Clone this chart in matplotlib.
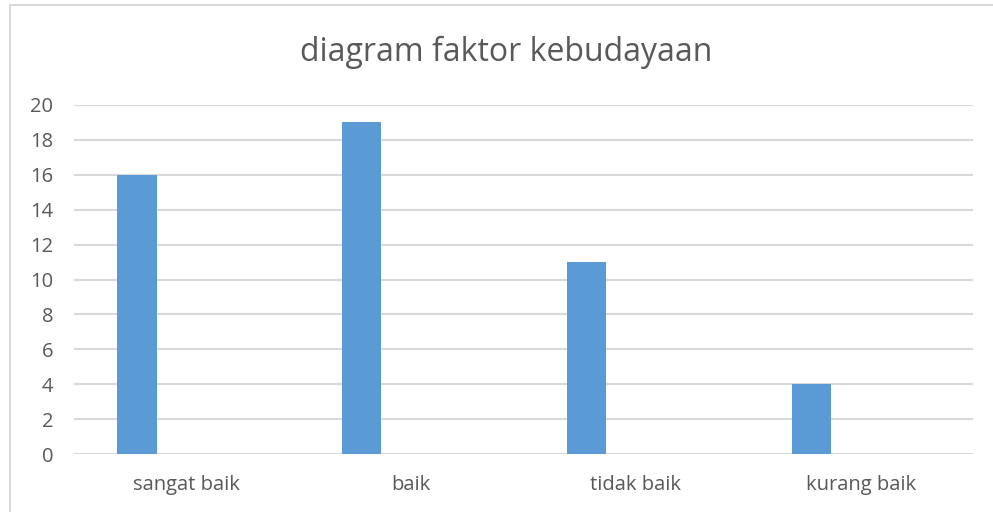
import matplotlib
matplotlib.use("Agg")
import matplotlib.pyplot as plt
from matplotlib.patches import Rectangle

categories = ["sangat baik", "baik", "tidak baik", "kurang baik"]
values = [16, 19, 11, 4]
yticks = [0, 2, 4, 6, 8, 10, 12, 14, 16, 18, 20]

W, H = 993, 512
fig = plt.figure(figsize=(W/100, H/100), dpi=100)
plt.rcParams['font.family'] = ['Open Sans', 'DejaVu Sans']
text_color = "#595959"
grid_color = "#D9D9D9"

# chart border
fig.patches.append(Rectangle((10/W, -0.05), 1.2, (H-5)/H + 0.05, transform=fig.transFigure,
                             fill=False, edgecolor=grid_color, linewidth=1.5))

ax = fig.add_axes([74/W, (H-454)/H, (973-74)/W, (454-105)/H])
x = list(range(len(categories)))
ax.bar([i - 0.22 for i in x], values, width=0.175, color="#5B9BD5", zorder=3)
ax.set_xlim(-0.5, len(categories) - 0.5)
ax.set_ylim(0, 20)
ax.set_yticks(yticks)
ax.set_xticks(x)
ax.set_xticklabels(categories)
ax.yaxis.grid(True, color=grid_color, linewidth=1.5, zorder=0)
ax.set_axisbelow(True)
for s in ax.spines.values():
    s.set_visible(False)
ax.tick_params(axis='both', length=0, colors=text_color, labelsize=14.5)
ax.tick_params(axis='x', pad=15)
ax.tick_params(axis='y', pad=15)
for lab in ax.get_yticklabels():
    lab.set_horizontalalignment('right')

fig.text(506/W, 1 - 52/H, "diagram faktor kebudayaan", ha='center', va='center',
         fontsize=23, color=text_color)

fig.savefig("out.png", dpi=100)
